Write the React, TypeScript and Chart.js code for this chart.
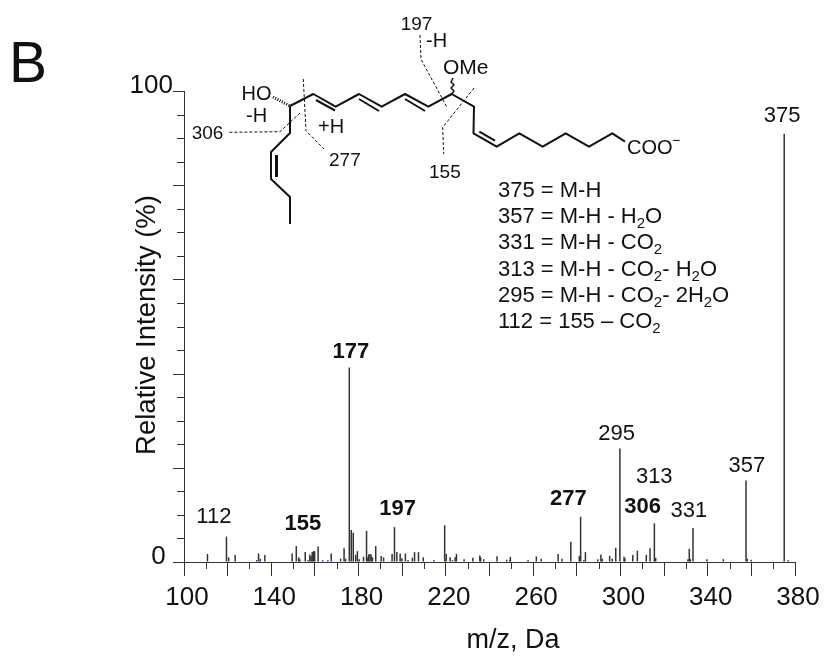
import React, { useEffect, useRef } from "react";
import { Chart, registerables } from "chart.js";

Chart.register(...registerables);

const FONT = '"Liberation Sans", Arial, sans-serif';
const INK = "#111111";
const AXIS = "#333333";

const mzValues = [
  111.1, 119.8, 120.8, 123.8, 134.5, 135.3, 137.4, 149.9, 151.8, 152.9, 153.4, 155.9, 158, 158.6, 159.1, 159.7,
  160.2, 161.8, 167.8, 172.1, 173.7, 174.4, 176.1, 177, 177.9, 179, 179.8, 180.6, 182.6, 184, 184.6, 185, 185.6,
  186.1, 186.7, 188.2, 190.7, 191.8, 195.7, 196.8, 197.9, 199.4, 200.2, 201.8, 203, 205, 206, 207.8, 210, 219.8,
  220.5, 222.3, 224.6, 225.2, 228.7, 232.7, 235.9, 236.3, 237.7, 243.8, 248.2, 249.9, 258, 261.8, 264, 271.8,
  273.6, 277.6, 281.5, 282.1, 284.3, 290, 291.4, 292, 295.4, 296.6, 298.2, 300.1, 302, 302.4, 306, 308.1, 312.2,
  313.9, 315.9, 316.5, 331.3, 331.9, 332.4, 333.6, 340, 347.5, 357.9, 358.5, 360.2, 375.4,
];
const intensityValues = [
  1.7, 5.4, 1, 1.5, 1.8, 0.7, 1.5, 1.8, 3.4, 1, 0.6, 2.1, 1.6, 1.3, 2.1, 2.3,
  2.3, 3.3, 1.8, 0.7, 2.9, 0.7, 41.3, 6.8, 6.2, 1.5, 2.3, 0.6, 1.1, 6.6, 1, 1.6, 1.7,
  1.6, 1, 3.4, 1.3, 1, 1.7, 7.4, 2.1, 1.8, 0.8, 1.8, 0.4, 0.9, 2.1, 2.1, 1, 7.8,
  1.7, 1, 1, 1.7, 0.6, 0.9, 1.4, 1, 0.6, 1.2, 0.5, 1.1, 0.4, 1.2, 0.7, 1.7,
  0.7, 4.3, 1.3, 9.6, 2.1, 0.6, 1.6, 0.7, 1.3, 0.7, 3, 24.1, 1.1, 0.8, 1.5, 2.4, 1.5,
  2.9, 8.2, 0.9, 0.6, 2.8, 0.6, 7.2, 0.6, 0.6, 17.3, 0.7, 0.5, 90.9,
];
const blueMz = [133, 156.5, 163.2, 165.6, 214.2, 222.7, 248.9, 282.9, 376.5];
const blueIntensity = [0.4, 0.4, 0.4, 0.4, 0.4, 0.4, 0.4, 0.4, 0.4];

const xTickLabels = [100, 140, 180, 220, 260, 300, 340, 380];
const xMajorTicks = [100, 120, 140, 160, 180, 200, 220, 240, 260, 280, 300, 320, 340, 360, 380];
const xMinorTicks = [110, 130, 150, 170, 190, 210, 230, 250, 270, 290, 310, 330, 350, 370];
const yLabelTicks = [0, 100];
const yMinorTicks = [5, 10, 15, 20, 25, 30, 35, 40, 45, 50, 55, 60, 65, 70, 75, 80, 85, 90, 95];

const peakLabels = ["112", "155", "177", "197", "277", "295", "306", "313", "331", "357", "375"];
const peakLabelMz = [113.7, 154.5, 176.5, 197.9, 276.1, 298.3, 310.2, 315.5, 331.4, 357.9, 374.1];
const peakLabelY = [8.2, 6.7, 43.3, 9.9, 12, 25.9, 10.5, 16.7, 9.5, 19.1, 93.4];
const peakLabelBold = [false, true, true, true, true, false, true, false, false, false, false];

const legendLines = [
  ["375 = M-H"],
  ["357 = M-H - H", "2", "O"],
  ["331 = M-H - CO", "2"],
  ["313 = M-H - CO", "2", "- H", "2", "O"],
  ["295 = M-H - CO", "2", "- 2H", "2", "O"],
  ["112 = 155 \u2013 CO", "2"],
];

function text(ctx: CanvasRenderingContext2D, s: string, x: number, y: number, size: number, bold = false, align: CanvasTextAlign = "left") {
  ctx.font = `${bold ? "bold " : ""}${size}px ${FONT}`;
  ctx.textAlign = align;
  ctx.textBaseline = "alphabetic";
  ctx.fillStyle = INK;
  ctx.fillText(s, x, y);
}

function line(ctx: CanvasRenderingContext2D, pts: number[], width: number, dash: number[] = [], color = INK) {
  ctx.beginPath();
  ctx.setLineDash(dash);
  ctx.lineWidth = width;
  ctx.strokeStyle = color;
  ctx.lineJoin = "round";
  for (let i = 0; i < pts.length; i += 2) {
    const x = pts[i];
    const y = pts[i + 1];
    if (i === 0) ctx.moveTo(x, y);
    else ctx.lineTo(x, y);
  }
  ctx.stroke();
  ctx.setLineDash([]);
}

function drawStructure(ctx: CanvasRenderingContext2D) {
  line(ctx, [290, 106, 313.3, 94, 335.7, 106.7, 359, 94, 381.7, 106.7, 405, 94, 428.3, 106.7, 451.7, 94, 474, 106.7, 473.5, 133.3, 496.7, 146.7, 519.3, 133.3, 542.7, 146.7, 565.7, 133.3, 589, 146.7, 612.3, 133.3, 625, 141.7], 2);
  line(ctx, [290, 106, 290, 133, 271, 152, 271, 179, 290, 197, 290, 224], 2);
  line(ctx, [316, 100, 335, 110.5], 2);
  line(ctx, [359, 99, 379, 111], 2);
  line(ctx, [405, 99, 425, 111], 2);
  line(ctx, [479.3, 131.7, 495, 140.7], 2);
  line(ctx, [276.5, 155, 276.5, 177], 3);
  // hashed bond to HO
  line(ctx, [273, 97, 290, 106], 3, [1, 1.5]);
  // wavy bond to OMe
  line(ctx, [451.7, 94, 454, 91, 451, 88, 454, 85, 451, 82, 453, 78], 1.5);
  // cleavage guides
  line(ctx, [303.3, 79, 306, 130.7, 324, 149], 1, [3, 2]);
  line(ctx, [300, 113, 280, 131.7, 229, 132.3], 1, [3, 2]);
  line(ctx, [420, 35, 421, 59.3, 446.7, 106.7], 1, [3, 2]);
  line(ctx, [474, 88, 442.7, 127.3, 443.7, 154], 1, [3, 2]);
  text(ctx, "HO", 241.5, 100, 20);
  text(ctx, "-H", 246, 121.7, 20);
  text(ctx, "306", 191.7, 138.5, 19);
  text(ctx, "+H", 318, 133.3, 20);
  text(ctx, "277", 329, 165.7, 19);
  text(ctx, "197", 400.7, 30, 19);
  text(ctx, "-H", 426, 46.7, 20);
  text(ctx, "OMe", 443, 74, 21);
  text(ctx, "155", 429, 177.7, 19);
  text(ctx, "COO", 627, 153.5, 20);
  text(ctx, "\u2212", 672, 145, 14);
}

function drawLegend(ctx: CanvasRenderingContext2D) {
  legendLines.forEach((parts, row) => {
    const y = 196.7 + row * 26.3;
    let x = 498;
    parts.forEach((part) => {
      const sub = part === "2";
      text(ctx, part, x, y + (sub ? 5 : 0), sub ? 15 : 22);
      x += ctx.measureText(part).width;
    });
  });
}

const overlay = {
  id: "overlay",
  afterDraw(chart: any) {
    const ctx: CanvasRenderingContext2D = chart.ctx;
    const { x, y } = chart.scales;
    ctx.save();
    xMinorTicks.forEach((v) => {
      const px = Math.round(x.getPixelForValue(v)) + 0.5;
      line(ctx, [px, y.bottom, px, y.bottom + 7], 1, [], AXIS);
    });
    yMinorTicks.forEach((v) => {
      const long = v % 20 === 0;
      const py = Math.round(y.getPixelForValue(v)) + 0.5;
      line(ctx, [x.left - (long ? 11 : 7), py, x.left, py], 1, [], AXIS);
    });
    peakLabels.forEach((label, i) => {
      const px = x.getPixelForValue(peakLabelMz[i]);
      const py = y.getPixelForValue(peakLabelY[i]);
      text(ctx, label, px, py, 22, peakLabelBold[i], "center");
    });
    drawStructure(ctx);
    drawLegend(ctx);
    text(ctx, "B", 9, 82, 57);
    text(ctx, "m/z, Da", 513, 647.5, 27, false, "center");
    ctx.translate(155, 325);
    ctx.rotate(-Math.PI / 2);
    text(ctx, "Relative Intensity (%)", 0, 0, 27.5, false, "center");
    ctx.restore();
  },
};

export default function App() {
  const ref = useRef<HTMLCanvasElement>(null);
  useEffect(() => {
    const chart = new Chart(ref.current!, {
      type: "bar",
      data: {
        datasets: [
          {
            data: mzValues.map((m, i) => ({ x: m, y: intensityValues[i] })),
            backgroundColor: "#333333",
            barThickness: 1.5,
            inflateAmount: 0,
          },
          {
            data: blueMz.map((m, i) => ({ x: m, y: blueIntensity[i] })),
            backgroundColor: "#3030e0",
            barThickness: 1.5,
            inflateAmount: 0,
          },
        ],
      },
      plugins: [overlay],
      options: {
        animation: false,
        responsive: false,
        layout: { padding: { left: 0, top: 91, right: 32, bottom: 0 } },
        plugins: { legend: { display: false }, tooltip: { enabled: false } },
        scales: {
          x: {
            type: "linear",
            offset: false,
            min: 100,
            max: 380,
            afterFit: (s: any) => { s.height = 102; },
            afterBuildTicks: (s: any) => { s.ticks = xMajorTicks.map((value) => ({ value })); },
            border: { color: AXIS, width: 1 },
            grid: { offset: false, drawOnChartArea: false, tickLength: 14, tickColor: AXIS },
            ticks: {
              autoSkip: false,
              maxRotation: 0,
              color: INK,
              padding: 6,
              labelOffset: 3,
              font: { family: FONT, size: 26 },
              callback: (v: any) => (xTickLabels.includes(v) ? String(v) : ""),
            },
          },
          y: {
            min: 0,
            max: 100,
            afterFit: (s: any) => { s.width = 184; },
            afterBuildTicks: (s: any) => { s.ticks = yLabelTicks.map((value) => ({ value })); },
            border: { color: AXIS, width: 1 },
            grid: { drawOnChartArea: false, tickLength: 11, tickColor: AXIS },
            ticks: {
              color: INK,
              padding: 0,
              labelOffset: -5,
              font: { family: FONT, size: 26 },
              callback: (v: any) => (v === 0 ? "0 " : String(v)),
            },
          },
        },
      },
    } as any);
    return () => chart.destroy();
  }, []);
  return <canvas ref={ref} width={827} height={664} style={{ position: "absolute", left: 0, top: 0, width: 827, height: 664 }} />;
}
